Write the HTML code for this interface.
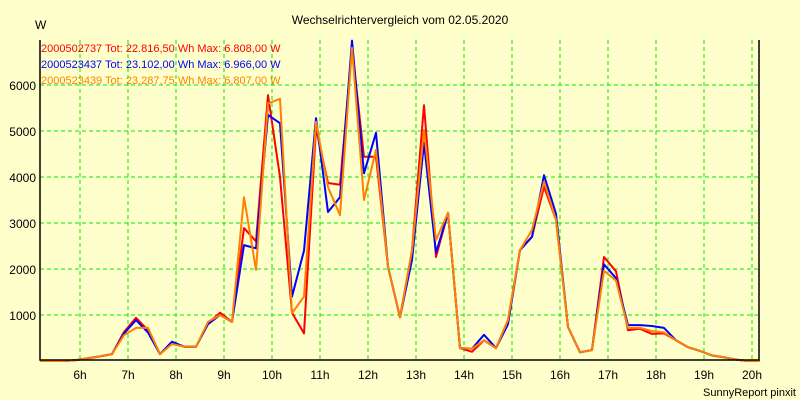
<!DOCTYPE html>
<html><head><meta charset="utf-8"><style>
body{margin:0;background:#ffffcc;}
svg{display:block;font-family:"Liberation Sans",sans-serif;}
</style></head><body>
<svg id="chart" width="800" height="400">
<rect x="0" y="0" width="800" height="400" fill="#ffffcc"/>
<text x="400" y="24" font-size="12" text-anchor="middle" fill="#000">Wechselrichtervergleich vom 02.05.2020</text>
<text x="35" y="29" font-size="12" fill="#000">W</text>
<g id="grid"></g>
<g id="series"></g>
<g id="axes"></g>
<g font-size="11">
<text x="41" y="52" fill="#ff0000">2000502737 Tot: 22.816,50 Wh Max: 6.808,00 W</text>
<text x="41" y="68" fill="#0000ff">2000523437 Tot: 23.102,00 Wh Max: 6.966,00 W</text>
<text x="41" y="84" fill="#ff8000">2000523439 Tot: 23.287,75 Wh Max: 6.807,00 W</text>
</g>
<text x="796" y="396" font-size="11" text-anchor="end" fill="#000">SunnyReport pinxit</text>
</svg>
<script>
const hourTicks=[6,7,8,9,10,11,12,13,14,15,16,17,18,19,20];
const yTicks=[1000,2000,3000,4000,5000,6000];
const startHour=5+10/60; // first sample 5:10, every 15 min
const red=[0,0,0,20,60,100,150,630,940,670,150,400,310,310,820,1050,850,2890,2600,5780,4000,1050,600,5060,3870,3830,6808,4440,4440,2050,950,2400,5560,2260,3220,280,200,450,280,890,2410,2700,3790,3070,740,190,240,2260,1950,670,700,590,600,450,300,220,120,80,30,0,0];
const blue=[0,0,0,20,60,100,150,600,890,620,150,420,310,310,800,1000,850,2520,2450,5350,5170,1400,2400,5280,3240,3560,6966,4080,4960,2050,950,2200,4740,2350,3220,280,270,570,280,800,2410,2700,4040,3200,740,190,240,2100,1800,780,780,760,720,450,300,220,120,80,30,0,0];
const orange=[0,0,0,20,60,100,150,560,720,720,150,370,310,310,850,1000,850,3560,1980,5600,5700,1040,1400,5200,3780,3170,6807,3500,4590,2050,950,2400,5020,2630,3220,280,270,450,280,890,2410,2850,3900,3070,740,190,240,1960,1750,720,720,650,620,450,300,220,120,80,30,0,0];
const L=40,R=759,T=40,B=360;
const xh=h=>80+(h-6)*48;
const yv=v=>361-v*0.046;
const NS='http://www.w3.org/2000/svg';
function mk(tag,attrs,parent){const e=document.createElementNS(NS,tag);for(const k in attrs)e.setAttribute(k,attrs[k]);parent.appendChild(e);return e;}
const grid=document.getElementById('grid'),axes=document.getElementById('axes'),ser=document.getElementById('series');
mk('rect',{x:L,y:T,width:R-L,height:B-T,fill:'#ffffcc'},grid);
hourTicks.forEach(h=>{
 const l=mk('line',{x1:xh(h),x2:xh(h),y1:T,y2:B,stroke:'#00ee00','stroke-dasharray':'4,3'},grid);
 
 
 const t=mk('text',{x:xh(h),y:379,'font-size':12,'text-anchor':'middle',fill:'#000'},axes);
 t.textContent=h+'h';
 
 
});
yTicks.forEach(v=>{
 const l=mk('line',{x1:L,x2:R,y1:yv(v),y2:yv(v),stroke:'#00ee00','stroke-dasharray':'4,3'},grid);
 
 
 const t=mk('text',{x:36,y:yv(v)+5,'font-size':12,'text-anchor':'end',fill:'#000'},axes);
 t.textContent=v;
 
 
});
const ax=mk('polyline',{points:`${L},${T} ${L},${B} ${R},${B} ${R},${T}`,fill:'none',stroke:'#000','stroke-width':1.5},axes);


function line(data,color,name){
 const pts=data.map((v,i)=>`${xh(startHour+i*0.25).toFixed(1)},${yv(v).toFixed(1)}`).join(' ');
 const p=mk('polyline',{points:pts,fill:'none',stroke:color,'stroke-width':2,'stroke-linejoin':'round'},ser);
 
 
}
line(red,'#ff0000','series-2000502737');
line(blue,'#0000ff','series-2000523437');
line(orange,'#ff8000','series-2000523439');
</script>
</body></html>
